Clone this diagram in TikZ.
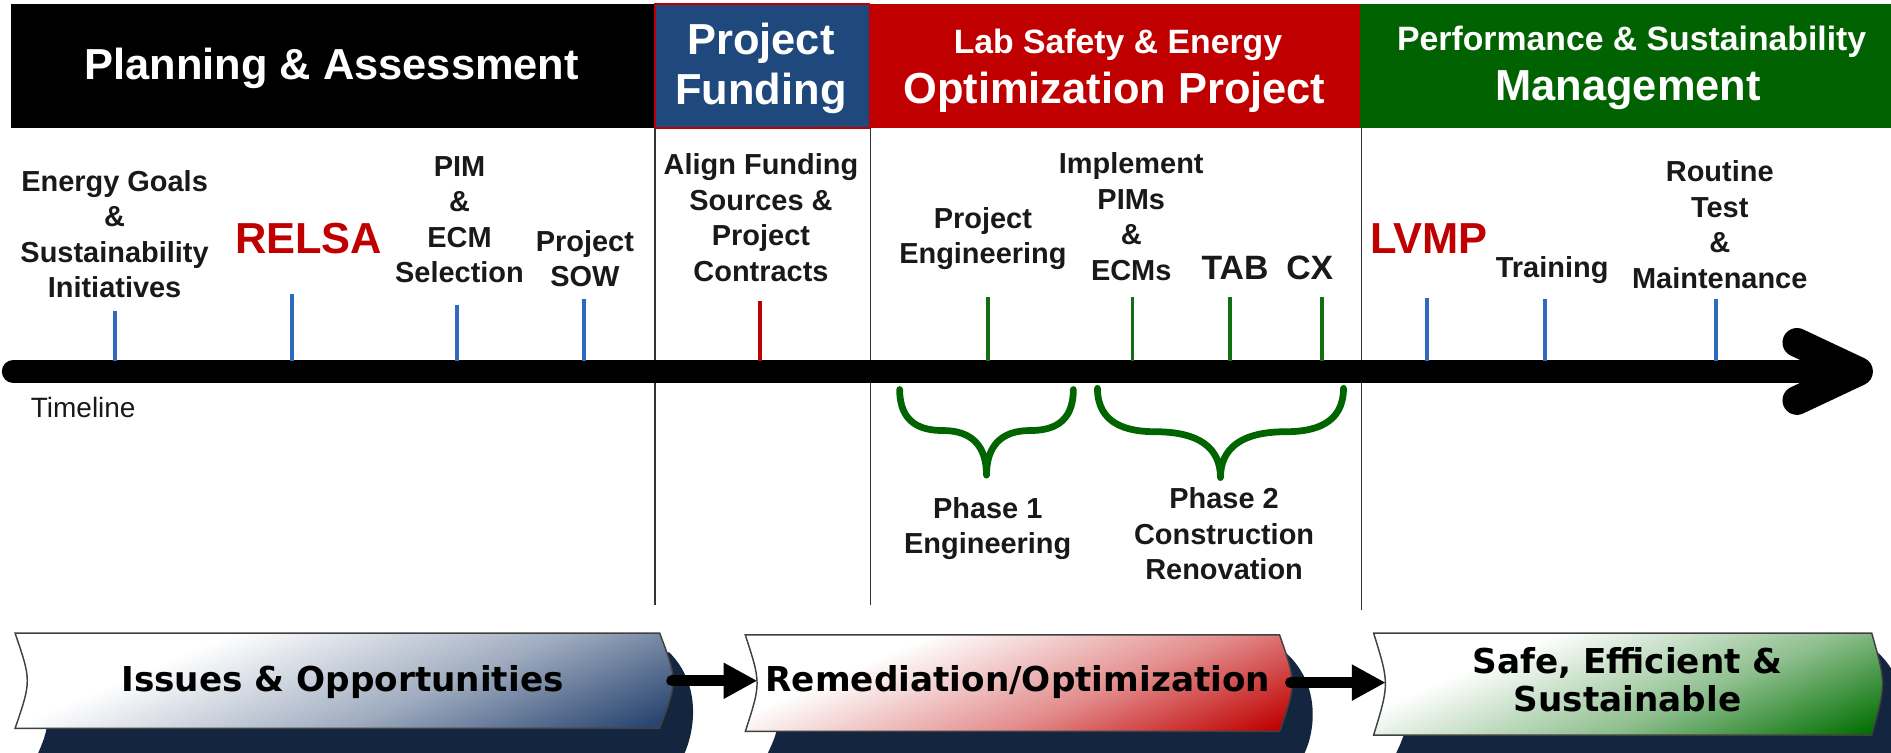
\documentclass[tikz,border=0pt]{standalone}
\usepackage{fontspec}
\setmainfont{Liberation Sans}
\newfontfamily\bannerfont{DejaVu Sans}
\usetikzlibrary{arrows.meta}

\definecolor{hdrblue}{RGB}{31,73,125}
\definecolor{hdrred}{RGB}{192,0,0}
\definecolor{hdrgreen}{RGB}{0,98,0}
\definecolor{tickblue}{RGB}{46,106,190}
\definecolor{tickgreen}{RGB}{20,110,20}
\definecolor{bracegreen}{RGB}{0,100,0}
\definecolor{shadownavy}{RGB}{20,37,64}
\definecolor{bannerblue}{RGB}{40,68,112}
\definecolor{bannerred}{RGB}{192,0,0}
\definecolor{bannergreen}{RGB}{0,110,0}
\definecolor{labelink}{RGB}{25,25,25}
\colorlet{bluemid}{bannerblue!45!white}
\colorlet{redmid}{bannerred!45!white}
\colorlet{greenmid}{bannergreen!45!white}

% white-to-colour fades for the three outcome banners (laid along a tilted axis)
\pgfdeclarehorizontalshading{fadeblue}{100bp}{color(0bp)=(white); color(39bp)=(white); color(56bp)=(bluemid); color(71bp)=(bannerblue); color(100bp)=(bannerblue)}
\pgfdeclarehorizontalshading{fadered}{100bp}{color(0bp)=(white); color(39bp)=(white); color(56bp)=(redmid); color(71bp)=(bannerred); color(100bp)=(bannerred)}
\pgfdeclarehorizontalshading{fadegreen}{100bp}{color(0bp)=(white); color(39bp)=(white); color(56bp)=(greenmid); color(71bp)=(bannergreen); color(100bp)=(bannergreen)}

\begin{document}
\begin{tikzpicture}[x=0.5pt,y=-0.5pt,
  hdr/.style={text=white, font=\bfseries\fontsize{18}{21}\selectfont, inner sep=0pt},
  hdrsmall/.style={text=white, font=\bfseries\fontsize{14}{17}\selectfont, inner sep=0pt},
  lbl/.style={text=labelink, font=\bfseries\fontsize{12}{14.7}\selectfont, align=center, inner sep=0pt},
  keylbl/.style={text=hdrred, font=\bfseries\fontsize{18}{21}\selectfont, inner sep=0pt},
  midlbl/.style={text=labelink, font=\bfseries\fontsize{14}{17}\selectfont, inner sep=0pt},
  tickline/.style={line width=1.6pt},
  divider/.style={draw=black!80, line width=0.6pt},
  phasebrace/.style={draw=bracegreen, line width=2.8pt, line cap=round, line join=round},
  bannertxt/.style={text=black, font=\bannerfont\bfseries\fontsize{14.2}{15.9}\selectfont, align=center, inner sep=0pt},
  bannerline/.style={draw=black!75, line width=0.6pt},
  flow/.style={line width=4.5pt, line cap=round, -{Triangle[length=14pt,width=14pt]}},
]
\useasboundingbox (0,0) rectangle (1568,624);

% ---------- header bars ----------
\fill[black] (9,3) rectangle (543,106);
\filldraw[fill=hdrblue, draw=hdrred, line width=0.8pt] (543,3) rectangle (721,106);
\fill[hdrred] (721,3) rectangle (1128,106);
\fill[hdrgreen] (1128,3) rectangle (1568,106);

\node[hdr, anchor=base] (planning) at (275,66) {Planning \& Assessment};
\node[hdr, anchor=base] (fund1) at (631,45.6) {Project};
\node[hdr, anchor=base] (fund2) at (631,87) {Funding};
\node[hdrsmall, anchor=base] (lab1) at (927,44) {Lab Safety \& Energy};
\node[hdr, anchor=base] (lab2) at (924,86) {Optimization Project};
\node[hdrsmall, anchor=base] (perf1) at (1353,41.5) {Performance \& Sustainability};
\node[hdr, anchor=base] (perf2) at (1350,83) {Management};

% ---------- phase dividers ----------
\draw[divider] (543,106) -- (543,502);
\draw[divider] (722,106) -- (722,502);
\draw[divider] (1129,106) -- (1129,506);

% ---------- timeline ----------
\coordinate (tl0) at (11,308);
\coordinate (tl1) at (1530,308);
\draw[line width=9.5pt, line cap=round] (tl0) -- (tl1);
\coordinate (hd1) at (1490,284);
\coordinate (hd2) at (1541,308);
\coordinate (hd3) at (1490,332);
\draw[line width=12pt, line cap=round, line join=round] (hd1) -- (hd2) -- (hd3);
\node[text=labelink, font=\fontsize{11.6}{14}\selectfont, inner sep=0pt] (timeline) at (69,338) {Timeline};

% ---------- milestone ticks ----------
\foreach \x/\t/\c in {95/258/tickblue, 242/244/tickblue, 379/253/tickblue, 484/248/tickblue,
                      630/250/hdrred,
                      819/246/tickgreen, 939/246/tickgreen, 1020/246/tickgreen, 1096/246/tickgreen,
                      1183/247/tickblue, 1281/248/tickblue, 1423/248/tickblue}
  \draw[tickline, draw=\c] (\x,\t) -- (\x,299);

% ---------- milestone labels ----------
\node[lbl] (goals) at (95,194) {Energy Goals\\\&\\Sustainability\\Initiatives};
\node[keylbl] (relsa) at (256,197.6) {RELSA};
\node[lbl] (pim) at (381,182) {PIM\\\&\\ECM\\Selection};
\node[lbl] (sow) at (485,214.7) {Project\\SOW};
\node[lbl] (align) at (631,180.4) {Align Funding\\Sources \&\\Project\\Contracts};
\node[lbl] (projeng) at (815,197.7) {Project\\Engineering};
\node[lbl] (impl) at (938,179.5) {Implement\\PIMs\\\&\\ECMs};
\node[midlbl] (tab) at (1024,222.5) {TAB};
\node[midlbl] (cx) at (1086,222.5) {CX};
\node[keylbl] (lvmp) at (1185,197.6) {LVMP};
\node[lbl] (training) at (1287,224) {Training};
\node[lbl] (routine) at (1426,186.4) {Routine\\Test\\\&\\Maintenance};

% ---------- phase braces ----------
\draw[phasebrace] (746,323) .. controls (746,352) and (765,357) .. (782,357)
  .. controls (806,357) and (818,370) .. (818,394)
  .. controls (818,370) and (830,357) .. (854,357)
  .. controls (871,357) and (890,352) .. (890,323);
\draw[phasebrace] (910,322) .. controls (910,352) and (935,358) .. (958,358)
  .. controls (995,358) and (1012,372) .. (1012,396)
  .. controls (1012,372) and (1029,358) .. (1066,358)
  .. controls (1089,358) and (1114,352) .. (1114,322);
\node[lbl] (phase1) at (819,438.5) {Phase 1\\Engineering};
\node[lbl] (phase2) at (1015,442.8) {Phase 2\\Construction\\Renovation};

% ---------- outcome banners ----------
% shadows
\fill[shadownavy] (30.5,541) -- (555,541) .. controls (581,567) and (577,604) .. (567,626)
  -- (31,626) .. controls (42,600) .. (30.5,541) -- cycle;
\fill[shadownavy] (636,542) -- (1067,542) .. controls (1095,568) and (1091,606) .. (1081,626)
  -- (636,626) .. controls (648,600) .. (636,542) -- cycle;
\fill[shadownavy] (1157,541) -- (1557,541) .. controls (1585,567) and (1581,606) .. (1571,626)
  -- (1157,626) .. controls (1169,600) .. (1157,541) -- cycle;

% banner faces: clip to the scroll outline, then lay a tilted fade under it
\begin{scope}
  \clip (12.5,525) -- (547,525) .. controls (562,564.5) .. (547,604)
    -- (12.5,604) .. controls (26,564.5) .. (12.5,525) -- cycle;
  \begin{scope}[transform canvas={rotate around={-67:(12.5,525)}}]
    \shade[shading=fadeblue] (-7.5,-75) rectangle (314.5,1125);
  \end{scope}
\end{scope}
\draw[bannerline] (12.5,525) -- (547,525) .. controls (562,564.5) .. (547,604)
  -- (12.5,604) .. controls (26,564.5) .. (12.5,525) -- cycle;

\begin{scope}
  \clip (618,526.5) -- (1061,526.5) .. controls (1075,566.5) .. (1061,606.5)
    -- (618,606.5) .. controls (631,566.5) .. (618,526.5) -- cycle;
  \begin{scope}[transform canvas={rotate around={-67:(618,526.5)}}]
    \shade[shading=fadered] (598,-73.5) rectangle (885,1126.5);
  \end{scope}
\end{scope}
\draw[bannerline] (618,526.5) -- (1061,526.5) .. controls (1075,566.5) .. (1061,606.5)
  -- (618,606.5) .. controls (631,566.5) .. (618,526.5) -- cycle;

\begin{scope}
  \clip (1139,525) -- (1552,525) .. controls (1564,567) .. (1552,609.5)
    -- (1139,609.5) .. controls (1152,567) .. (1139,525) -- cycle;
  \begin{scope}[transform canvas={rotate around={-67:(1139,525)}}]
    \shade[shading=fadegreen] (1119,-75) rectangle (1399,1125);
  \end{scope}
\end{scope}
\draw[bannerline] (1139,525) -- (1552,525) .. controls (1564,567) .. (1552,609.5)
  -- (1139,609.5) .. controls (1152,567) .. (1139,525) -- cycle;

\node[bannertxt, anchor=base] (issues) at (284,573.5) {Issues \& Opportunities};
\node[bannertxt, anchor=base] (remed) at (844,573.5) {Remediation/Optimization};
\node[bannertxt] (safe) at (1349.5,563.4) {Safe, Efficient \&\\Sustainable};

% flow arrows between banners
\coordinate (b1r) at (557,564.5);
\coordinate (b2l) at (628,564.5);
\coordinate (b2r) at (1070,566);
\coordinate (b3l) at (1149,566);
\draw[flow] (b1r) -- (b2l);
\draw[flow] (b2r) -- (b3l);
\end{tikzpicture}
\end{document}
